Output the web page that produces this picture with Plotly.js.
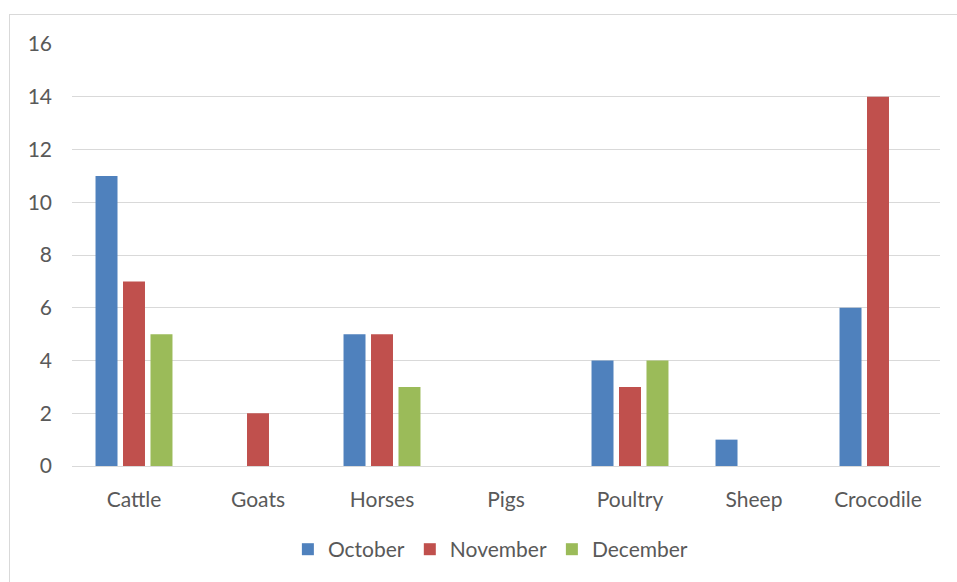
<!DOCTYPE html>
<html>
<head>
<meta charset="utf-8">
<script src="https://cdn.plot.ly/plotly-3.0.1.min.js"></script>
<style>
html, body { margin: 0; padding: 0; background: #fff; }
#wrap { position: relative; width: 957px; height: 582px; overflow: hidden; }
#chart { width: 957px; height: 582px; }
#frame { position: absolute; left: 9px; top: 14px; width: 1000px; height: 700px; border: 1px solid #d9d9d9; pointer-events: none; }
</style>
</head>
<body>
<div id="wrap"><div id="chart"></div><div id="frame"></div></div>
<script>
const categories = ["Cattle", "Goats", "Horses", "Pigs", "Poultry", "Sheep", "Crocodile"];
const october = [11, 0, 5, 0, 4, 1, 6];
const november = [7, 2, 5, 0, 3, 0, 14];
const december = [5, 0, 3, 0, 4, 0, 0];
const yTicks = [0, 2, 4, 6, 8, 10, 12, 14, 16];

const font = { family: "Lato, 'Open Sans', sans-serif", size: 21, color: "#595959" };

const traces = [
  { name: "October", y: october, color: "#4F81BD" },
  { name: "November", y: november, color: "#C0504D" },
  { name: "December", y: december, color: "#9BBB59" }
].map(s => ({
  type: "bar", x: categories, y: s.y, name: s.name,
  marker: { color: s.color }, hoverinfo: "skip"
}));

const layout = {
  width: 957, height: 582,
  margin: { l: 72, r: 17, t: 44, b: 114 },
  paper_bgcolor: "#fff", plot_bgcolor: "#fff",
  barmode: "group", bargap: 0.335, bargroupgap: 0.2,
  font: font,
  showlegend: true,
  legend: { orientation: "h", x: 0.482, xanchor: "center", y: -0.198, yanchor: "middle",
            font: font, itemwidth: 30, traceorder: "normal" },
  xaxis: { type: "category", showgrid: false, showline: true, linecolor: "#d9d9d9",
           ticks: "", tickfont: font, ticklabelstandoff: 15 },
  yaxis: { range: [0, 16], tickvals: yTicks, ticktext: yTicks.map(String),
           showgrid: true, gridcolor: "#d9d9d9", gridwidth: 1, zeroline: false,
           showline: false, ticks: "", tickfont: font, ticklabelstandoff: 19 }
};

Plotly.newPlot("chart", traces, layout, { displayModeBar: false, staticPlot: true });
</script>
</body>
</html>
